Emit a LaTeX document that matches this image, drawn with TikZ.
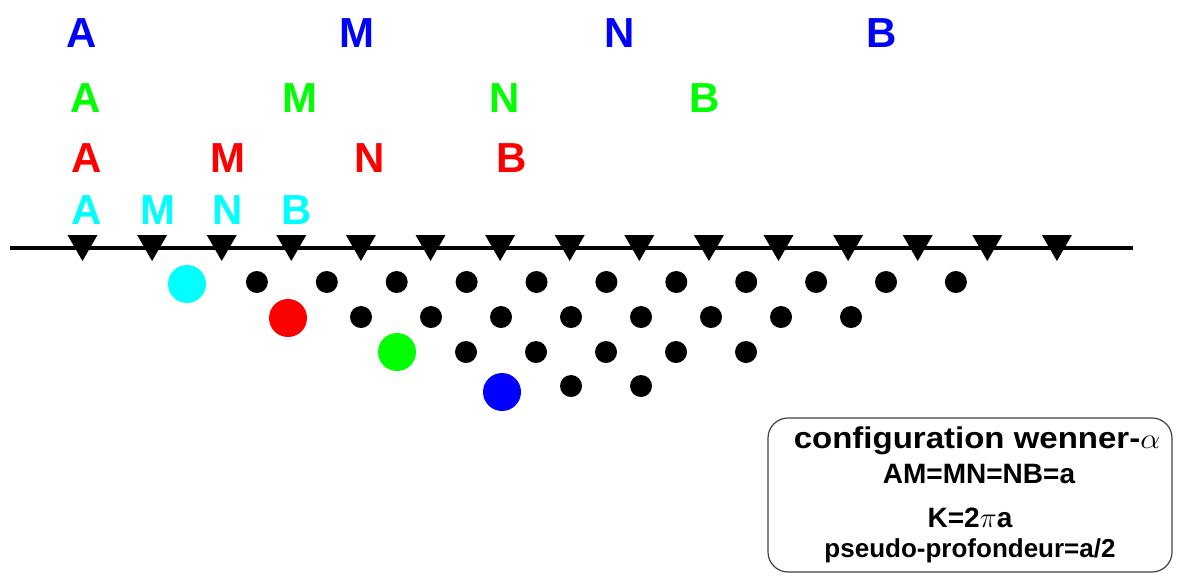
\documentclass[tikz,border=0pt]{standalone}
\usepackage{fontspec}
\setmainfont{Liberation Sans}
\usepackage{xcolor}
\definecolor{ElecCyan}{RGB}{0,255,255}
\definecolor{ElecRed}{RGB}{255,0,0}
\definecolor{ElecGreen}{RGB}{0,255,0}
\definecolor{ElecBlue}{RGB}{0,0,255}
\usetikzlibrary{positioning}

\begin{document}
\begin{tikzpicture}[x=0.5pt,y=-0.5pt,
    lbl/.style={font=\fontsize{21}{21}\selectfont\bfseries,anchor=base,inner sep=0pt},
    pt/.style={circle,fill=black,inner sep=0pt,minimum size=11pt},
    bigpt/.style={circle,inner sep=0pt,minimum size=19pt},
    infobox/.style={draw=black!75,line width=0.6pt,rounded corners=10pt,minimum width=202pt,minimum height=77pt},
    info/.style={anchor=base,inner sep=0pt,font=\bfseries},
  ]
    \useasboundingbox (0,0) rectangle (1182,579);

    % ground surface and electrodes
    \coordinate (gl) at (10,248);
    \coordinate (gr) at (1133,248);
    \draw[line width=2.2pt] (gl) -- (gr);
    \foreach \i in {0,...,14}{
      \coordinate (e\i) at ({82.5+69.6*\i},248);
      \fill (e\i) ++(-15,-13) -- ++(30,0) -- ++(-15,26) -- cycle;
    }

    % electrode labels, one line per spacing
    \foreach \x/\t in {82/A,357/M,620/N,882/B}
      \node[lbl,text=ElecBlue] (b\t) at (\x,47) {\t};
    \foreach \x/\t in {86/A,300/M,505/N,705/B}
      \node[lbl,text=ElecGreen] (g\t) at (\x,112) {\t};
    \foreach \x/\t in {87/A,228/M,370/N,512/B}
      \node[lbl,text=ElecRed] (r\t) at (\x,172) {\t};
    \foreach \x/\t in {87/A,158/M,228/N,297/B}
      \node[lbl,text=ElecCyan] (c\t) at (\x,224) {\t};

    % pseudo-section points
    \node[bigpt,fill=ElecCyan] (p1) at (187,284) {};
    \node[bigpt,fill=ElecRed] (p2) at (288,318) {};
    \node[bigpt,fill=ElecGreen] (p3) at (397,352) {};
    \node[bigpt,fill=ElecBlue] (p4) at (502,392) {};
    \foreach \k in {1,...,11}
      \node[pt] (d1-\k) at ({187+69.9*\k},282) {};
    \foreach \k in {0,...,7}
      \node[pt] (d2-\k) at ({361+70*\k},317) {};
    \foreach \k in {0,...,4}
      \node[pt] (d3-\k) at ({466+70*\k},352) {};
    \foreach \k in {0,1}
      \node[pt] (d4-\k) at ({571+70*\k},386) {};

    % legend
    \node[infobox] (conf) at (970,495) {};
    \node[info] (title) at (977,448) {\scalebox{1.1}[1]{\fontsize{15}{15}\selectfont configuration wenner-$\alpha$}};
    \node[info,font=\fontsize{14}{14}\selectfont\bfseries] (spc) at (979,483) {AM=MN=NB=a};
    \node[info,font=\fontsize{14}{14}\selectfont\bfseries] (kfac) at (970,527) {K=2$\pi$a};
    \node[info,font=\fontsize{13}{13}\selectfont\bfseries] (depth) at (970,557) {pseudo-profondeur=a/2};
\end{tikzpicture}
\end{document}
